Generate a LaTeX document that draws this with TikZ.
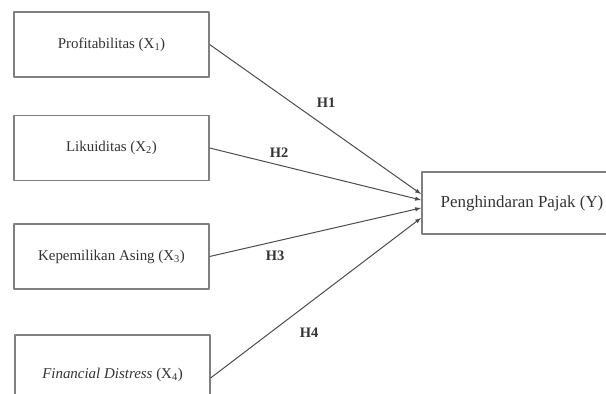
\documentclass[tikz,border=0pt]{standalone}
\usepackage{fontspec}
\setmainfont{Liberation Serif}
\usetikzlibrary{arrows}
\definecolor{boxcol}{rgb}{0.5,0.5,0.5}
\definecolor{edgecol}{rgb}{0.3,0.3,0.3}
\definecolor{textcol}{rgb}{0.2,0.2,0.2}
\tikzset{
  varbox/.style={draw=boxcol,line width=1.2bp,minimum width=195bp,minimum height=65bp,
    inner sep=0pt,text=textcol,font=\fontsize{15}{18}\selectfont},
  hyp/.style={text=textcol,font=\fontsize{14.5}{17}\selectfont\bfseries},
}
\begin{document}
\begin{tikzpicture}[>=latex,line join=bevel,]
  \pgfsetlinewidth{1bp}
  \clip (0bp,0bp) rectangle (606bp,394bp);
%%
  % Node: X1
  \node [varbox] (x1) at (111.5bp,349.5bp) {Profitabilitas (X\textsubscript{1})};
  % Node: X2
  \node [varbox] (x2) at (111.5bp,246bp) {Likuiditas (X\textsubscript{2})};
  % Node: X3
  \node [varbox] (x3) at (111.5bp,137.5bp) {Kepemilikan Asing (X\textsubscript{3})};
  % Node: X4
  \node [varbox,minimum height=80bp] (x4) at (112.5bp,19bp) {\textit{Financial Distress} (X\textsubscript{4})};
  % Node: Y
  \node [varbox,minimum width=200bp,minimum height=62bp,font=\fontsize{17}{20}\selectfont] (y) at (522bp,191bp) {Penghindaran Pajak (Y)};
%%
  \coordinate (t1) at (421bp,200bp);
  \coordinate (t2) at (421bp,194bp);
  \coordinate (t3) at (421bp,186bp);
  \coordinate (t4) at (421bp,176bp);
  % Edge: X1 -> Y
  \draw [->,edgecol] (x1.east) -- (t1);
  % Edge: X2 -> Y
  \draw [->,edgecol] (x2.east) -- (t2);
  % Edge: X3 -> Y
  \draw [->,edgecol] (x3.east) -- (t3);
  % Edge: X4 -> Y
  \draw [->,edgecol] ([yshift=-3bp]x4.east) -- (t4);
%%
  \node [hyp] (h1) at (326bp,291bp) {H1};
  \node [hyp] (h2) at (279bp,241bp) {H2};
  \node [hyp] (h3) at (275bp,138bp) {H3};
  \node [hyp] (h4) at (309bp,61bp) {H4};
%
\end{tikzpicture}
\end{document}
